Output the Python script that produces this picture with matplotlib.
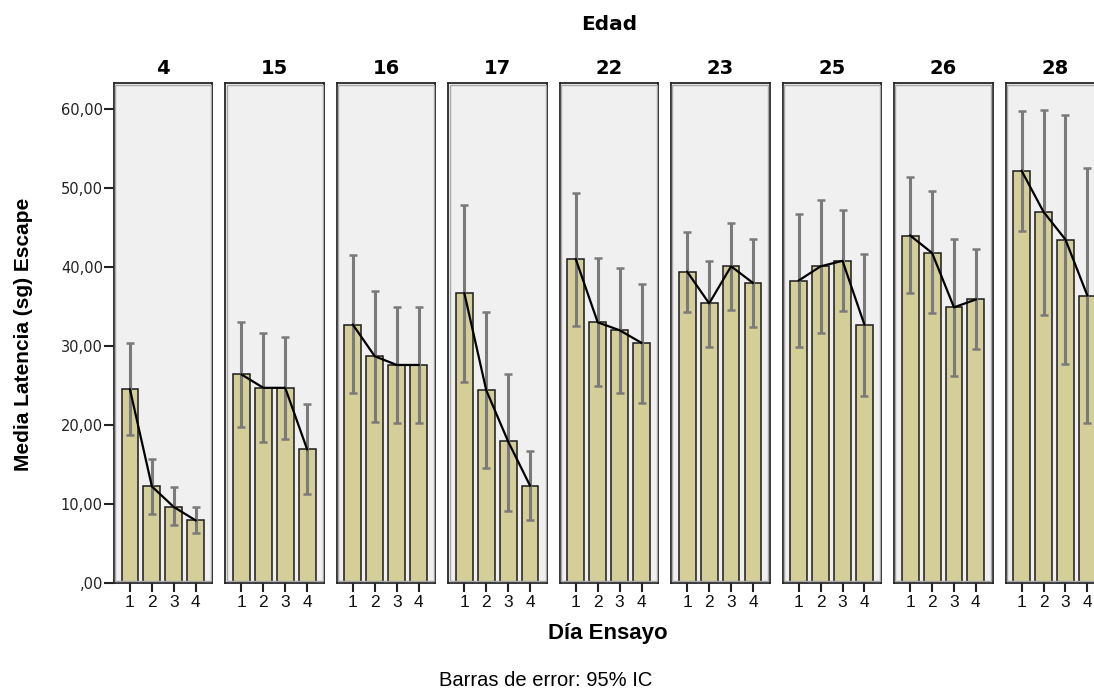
import matplotlib
matplotlib.use("Agg")
import matplotlib.pyplot as plt
from matplotlib.patches import Rectangle
import numpy as np

# Mean escape latency by age group (Edad) and trial day, with 95% CI bounds
edades = ["4", "15", "16", "17", "22", "23", "25", "26", "28"]
dias = [1, 2, 3, 4]

media = {
    "4":  [24.5, 12.2, 9.6, 7.9],
    "15": [26.4, 24.7, 24.7, 16.9],
    "16": [32.7, 28.7, 27.6, 27.6],
    "17": [36.7, 24.4, 17.9, 12.3],
    "22": [41.0, 33.0, 32.0, 30.4],
    "23": [39.4, 35.4, 40.1, 38.0],
    "25": [38.3, 40.1, 40.8, 32.7],
    "26": [44.0, 41.8, 34.9, 35.9],
    "28": [52.2, 47.0, 43.5, 36.4],
}
ic_sup = {
    "4":  [30.4, 15.7, 12.1, 9.6],
    "15": [33.1, 31.6, 31.2, 22.6],
    "16": [41.5, 37.0, 34.9, 34.9],
    "17": [47.9, 34.3, 26.4, 16.7],
    "22": [49.4, 41.1, 39.9, 37.9],
    "23": [44.5, 40.8, 45.6, 43.6],
    "25": [46.7, 48.5, 47.2, 41.7],
    "26": [51.4, 49.6, 43.6, 42.3],
    "28": [59.8, 59.9, 59.3, 52.6],
}
ic_inf = {
    "4":  [18.7, 8.7, 7.3, 6.3],
    "15": [19.7, 17.8, 18.2, 11.2],
    "16": [24.0, 20.4, 20.2, 20.2],
    "17": [25.5, 14.5, 9.1, 7.9],
    "22": [32.6, 24.9, 24.1, 22.8],
    "23": [34.3, 29.9, 34.6, 32.4],
    "25": [29.9, 31.7, 34.5, 23.7],
    "26": [36.7, 34.2, 26.2, 29.6],
    "28": [44.6, 33.9, 27.7, 20.2],
}
yticks = [0, 10, 20, 30, 40, 50, 60]

sans = ["Liberation Sans", "DejaVu Sans"]
wide = ["DejaVu Sans"]

W, H = 1094, 688
fig = plt.figure(figsize=(W / 100, H / 100), dpi=100)
fig.patch.set_facecolor("white")

bar_color = "#d4ce98"
panel_bg = "#f0f0f0"

left0, step, pw = 114, 111.46, 98.3
top_px, bot_px = 83.3, 582.7


def fmt(v):
    s = f"{v:.2f}".replace(".", ",")
    return s[1:] if s.startswith("0") else s


for i, edad in enumerate(edades):
    x0 = left0 + i * step
    ax = fig.add_axes([x0 / W, (H - bot_px) / H, pw / W, (bot_px - top_px) / H])
    ax.set_facecolor(panel_bg)
    m = np.array(media[edad])
    lo = np.array(ic_inf[edad])
    hi = np.array(ic_sup[edad])
    x = np.array(dias)
    ax.bar(x, m, width=0.77, color=bar_color, edgecolor="#1a1a1a",
           linewidth=1.1, zorder=2)
    eb = ax.errorbar(x, m, yerr=[m - lo, hi - m], fmt="none", ecolor="#7a7a7a",
                     elinewidth=2.2, capsize=2.6, capthick=1.8, zorder=3)
    for cl in eb[1]:
        cl.set_color("#222222")
    ax.plot(x, m, color="black", linewidth=1.6, zorder=4)
    ax.set_xlim(0.27, 4.76)
    ax.set_ylim(0, 63.3)
    ax.set_xticks(dias)
    ax.set_xticklabels([str(d) for d in dias], fontfamily=sans, fontsize=12.5,
                       color="#111111")
    ax.tick_params(axis="x", direction="out", length=6.5, width=1.5,
                   color="#222222", pad=2.5)
    for sp in ax.spines.values():
        sp.set_color("#262626")
        sp.set_linewidth(1.3)
    # soft inner edge of the panel frame
    ax.add_patch(Rectangle((0.012, 0.003), 0.976, 0.994,
                           transform=ax.transAxes, fill=False,
                           edgecolor="#a8a8a8", linewidth=1.0, zorder=5))
    if i == 0:
        ax.set_yticks(yticks)
        ax.set_yticklabels([fmt(v) for v in yticks], fontfamily=wide,
                           fontsize=10.5, color="#222222")
        ax.tick_params(axis="y", direction="out", length=7.5, width=1.5,
                       color="#222222", pad=0.5)
    else:
        ax.set_yticks([])
    ax.set_title(edad, fontfamily=wide, fontweight="bold", fontsize=14,
                 pad=6.5)

fig.text(609 / W, 1 - 24 / H, "Edad", ha="center", va="center",
         fontfamily=wide, fontweight="bold", fontsize=14.5)
fig.text(24 / W, 1 - 334 / H, "Media Latencia (sg) Escape", rotation=90,
         ha="center", va="center", fontfamily=sans, fontweight="bold",
         fontsize=15)
fig.text(608 / W, 1 - 634 / H, "Día Ensayo", ha="center", va="center",
         fontfamily=sans, fontweight="bold", fontsize=16)
fig.text(546 / W, 1 - 680 / H, "Barras de error: 95% IC", ha="center",
         va="center", fontfamily=sans, fontsize=14.5)

fig.savefig("out.png", dpi=100, facecolor="white")
